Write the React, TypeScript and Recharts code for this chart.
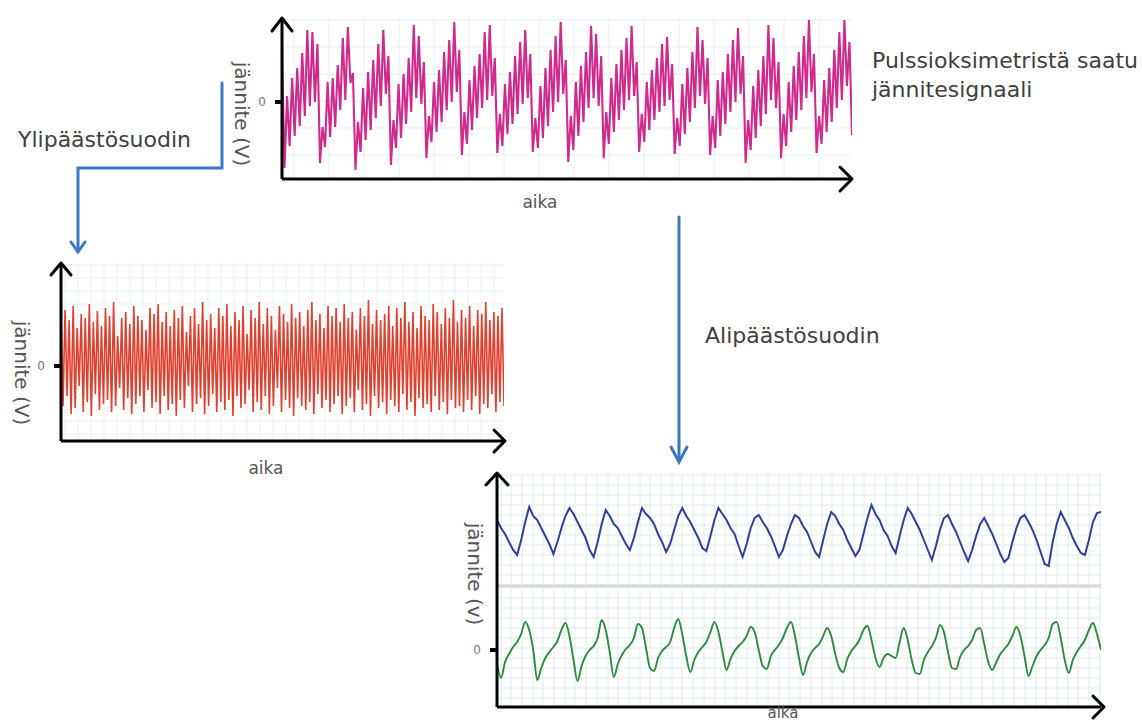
import { LineChart, Line, XAxis, YAxis, CartesianGrid } from "recharts";

const W = 1142;
const H = 722;
const FONT = "'DejaVu Sans', Verdana, sans-serif";

// pulse oximeter voltage, raw (arbitrary units, 0 = zero tick)
const rawSignal = [
  52, -66,
  6, -44, 24, -34, 34, -24, 49, -14, 72, -4, 70, 0, 58, -61,
  -25, -45, 20, -35, 24, -25, 37, -8, 64, 2, 75, 19, 29, -68,
  -20, -50, 14, -38, 30, -28, 42, -16, 58, -4, 72, 8, 46, -63,
  -18, -46, 18, -36, 28, -22, 44, -10, 77, 4, 66, -2, 40, -56,
  -14, -40, 20, -30, 32, -20, 50, -8, 62, 0, 80, 10, 52, -53,
  -10, -42, 22, -28, 36, -16, 48, -6, 70, 2, 77, 6, 44, -51,
  -12, -44, 18, -32, 30, -22, 46, -12, 60, -2, 72, 4, 48, -50,
  -16, -46, 16, -36, 34, -24, 52, -10, 66, 0, 80, 8, 42, -60,
  -14, -48, 20, -34, 36, -20, 50, -6, 76, 4, 68, -4, 46, -56,
  -10, -42, 24, -30, 38, -18, 52, -8, 64, 2, 76, 6, 40, -50,
  -12, -40, 20, -28, 32, -18, 44, -10, 58, -4, 65, 2, 38, -52,
  -16, -44, 18, -32, 34, -20, 50, -6, 75, 6, 62, -2, 44, -53,
  -14, -46, 22, -34, 30, -22, 48, -10, 62, 0, 74, 8, 46, -61,
  -18, -48, 16, -36, 32, -24, 46, -12, 77, 2, 64, -6, 40, -56,
  -12, -44, 20, -30, 36, -18, 50, -8, 66, 4, 82, 10, 48, -51,
  -14, -42, 22, -30, 34, -20, 52, -6, 70, 2, 82, 16, 60, -33,
];

// after high-pass filter
const highPass = [
  50, -40, 56, -30, 46, -48, 60, -42, 38, -20, 52, -46, 48, -36, 62, -50, 44, -28, 55, -44,
  40, -38, 58, -34, 50, -46, 64, -40, 30, -22, 48, -44, 54, -32, 42, -48, 60, -38, 50, -30,
  46, -46, 36, -24, 58, -42, 52, -36, 62, -48, 44, -30, 54, -44, 40, -38, 56, -50, 48, -34,
  60, -42, 34, -20, 50, -46, 58, -38, 42, -32, 64, -48, 46, -40, 52, -28, 38, -46, 58, -36,
  50, -44, 62, -34, 40, -50, 54, -30, 46, -42, 60, -38, 32, -24, 56, -46, 48, -36, 64, -44,
  42, -30, 58, -48, 50, -40, 36, -22, 60, -46, 52, -34, 44, -42, 62, -50, 48, -32, 54, -40,
  40, -44, 56, -36, 64, -48, 46, -28, 52, -42, 38, -34, 60, -46, 50, -38, 58, -30, 44, -48,
  62, -40, 48, -32, 54, -46, 36, -24, 58, -44, 50, -38, 66, -50, 42, -30, 56, -42, 46, -36,
  52, -48, 60, -34, 40, -40, 58, -46, 48, -28, 64, -44, 44, -36, 54, -50, 38, -32, 60, -42,
  50, -38, 46, -46, 62, -30, 54, -44, 42, -36, 58, -48, 48, -34, 66, -42, 44, -40, 56, -46,
  48, -34, 60, -44, 40, -30, 56, -48, 52, -38, 64, -42, 46, -28, 54, -46, 50, -36, 58, -40,
];

// after low-pass filter, upper trace
const lowPassBlue = [
  66, 58, 52, 44, 36, 31, 46, 64, 79, 70, 66, 58, 50, 42, 32, 44, 58, 70, 78, 72,
  64, 56, 48, 36, 29, 44, 62, 76, 70, 62, 58, 50, 42, 36, 48, 64, 78, 72, 68, 62,
  52, 44, 34, 42, 56, 70, 78, 70, 64, 56, 48, 38, 35, 50, 66, 78, 72, 66, 58, 52,
  40, 29, 42, 58, 68, 71, 64, 58, 50, 40, 29, 36, 50, 62, 71, 68, 60, 54, 44, 34,
  29, 46, 62, 74, 70, 62, 56, 46, 38, 30, 36, 52, 68, 81, 72, 66, 56, 50, 40, 33,
  50, 66, 78, 72, 64, 56, 46, 36, 26, 40, 56, 68, 71, 62, 54, 44, 34, 25, 36, 50,
  62, 68, 60, 52, 42, 32, 24, 28, 44, 58, 68, 71, 64, 56, 46, 34, 22, 20, 44, 62,
  74, 66, 58, 48, 40, 33, 31, 46, 64, 73, 74,
];

// after low-pass filter, lower trace
const lowPassGreen = [
  -14, -28, -12, -4, 3, 8, 16, 28, 20, 0, -30, -18, -8, -2, 3, 9, 20, 27, 14, -10,
  -31, -16, -6, 0, 4, 12, 30, 20, -2, -27, -14, -5, 1, 5, 12, 26, 22, 2, -18, -21,
  -8, -1, 3, 8, 22, 31, 16, -6, -22, -10, -2, 3, 8, 18, 28, 18, -2, -20, -9, -1,
  4, 8, 14, 23, 18, 0, -16, -19, -6, 0, 5, 12, 22, 28, 14, -8, -25, -12, -3, 2,
  6, 14, 22, 14, -4, -18, -22, -9, -1, 4, 10, 20, 24, 10, -8, -17, -8, -4, -6, -8,
  8, 22, 10, -10, -23, -24, -10, -2, 4, 12, 25, 18, -2, -18, -19, -7, 0, 4, 10, 20,
  22, 6, -12, -20, -12, -4, 1, 6, 14, 23, 14, -6, -26, -16, -6, 0, 5, 12, 26, 28,
  12, -10, -23, -10, -2, 4, 10, 20, 27, 16, 0,
];

const toRows = (vals: number[]) => vals.map((v, t) => ({ t, v }));

const steps = (from: number, to: number, step: number) => {
  const out: number[] = [];
  for (let p = from; p <= to; p += step) out.push(Math.round(p));
  return out;
};

type Box = { left: number; top: number; right: number; bottom: number };

const vLabel = (text: string, cx: number, cy: number) => () => (
  <text
    x={cx}
    y={cy}
    transform={`rotate(90 ${cx} ${cy})`}
    textAnchor="middle"
    dominantBaseline="central"
    fill="#555"
    fontSize={20}
    fontFamily={FONT}
  >
    {text}
  </text>
);

const hLabel = (text: string, cx: number, by: number, size = 17) => () => (
  <text x={cx} y={by} textAnchor="middle" fill="#555" fontSize={size} fontFamily={FONT}>
    {text}
  </text>
);

function Panel({
  values,
  box,
  domain,
  color,
  strokeWidth,
  curve,
  grid,
  gridColor,
  zeroTick,
  xAxisColor,
  yLabel,
  xLabel,
}: {
  values: number[];
  box: Box;
  domain: [number, number];
  color: string;
  strokeWidth: number;
  curve: "linear" | "monotone";
  grid: [number, number];
  gridColor: string;
  zeroTick: boolean;
  xAxisColor: string;
  yLabel?: () => JSX.Element;
  xLabel?: () => JSX.Element;
}) {
  return (
    <div style={{ position: "absolute", left: 0, top: 0 }}>
      <LineChart
        width={W}
        height={H}
        data={toRows(values)}
        margin={{ top: box.top, right: W - box.right, bottom: H - box.bottom - 10, left: 0 }}
      >
        <CartesianGrid
          stroke={gridColor}
          strokeWidth={1}
          verticalPoints={steps(box.left + grid[0] / 3, box.right, grid[0])}
          horizontalPoints={steps(box.top + 2, box.bottom, grid[1])}
        />
        <XAxis
          type="number"
          dataKey="t"
          domain={[0, values.length - 1]}
          allowDataOverflow
          height={10}
          tick={false}
          tickLine={false}
          axisLine={{ stroke: xAxisColor, strokeWidth: 3 }}
          label={xLabel ? { content: xLabel } : undefined}
        />
        <YAxis
          type="number"
          domain={domain}
          allowDataOverflow
          width={box.left}
          ticks={zeroTick ? [0] : undefined}
          tick={zeroTick ? { fill: "#777", fontSize: 12, fontFamily: FONT } : false}
          tickLine={zeroTick ? { stroke: "#000", strokeWidth: 4 } : false}
          tickSize={7}
          tickMargin={9}
          axisLine={{ stroke: "#000", strokeWidth: 3 }}
          label={yLabel ? { content: yLabel } : undefined}
        />
        <Line
          dataKey="v"
          type={curve}
          stroke={color}
          strokeWidth={strokeWidth}
          dot={false}
          isAnimationActive={false}
        />
      </LineChart>
    </div>
  );
}

export default function App() {
  return (
    <div
      style={{
        position: "absolute",
        left: 0,
        top: 0,
        width: W,
        height: H,
        background: "#fff",
        overflow: "hidden",
        fontFamily: FONT,
      }}
    >
      <Panel
        values={rawSignal}
        box={{ left: 282, top: 18, right: 852, bottom: 179 }}
        domain={[-77, 84]}
        color="#d02a8c"
        strokeWidth={2.1}
        curve="linear"
        grid={[35, 27]}
        gridColor="#e6eff2"
        zeroTick
        xAxisColor="#000"
        yLabel={vLabel("jännite (V)", 242, 114)}
        xLabel={hLabel("aika", 540, 208)}
      />
      <Panel
        values={highPass}
        box={{ left: 61, top: 263, right: 504, bottom: 441 }}
        domain={[-75, 103]}
        color="#e2402e"
        strokeWidth={1.6}
        curve="linear"
        grid={[13, 13]}
        gridColor="#e8f1f4"
        zeroTick
        xAxisColor="#000"
        yLabel={vLabel("jännite (V)", 22, 373)}
        xLabel={hLabel("aika", 266, 474)}
      />
      <Panel
        values={lowPassBlue}
        box={{ left: 497, top: 473, right: 1101, bottom: 586 }}
        domain={[0, 113]}
        color="#2f3f98"
        strokeWidth={2}
        curve="linear"
        grid={[10.7, 10]}
        gridColor="#e0ebf0"
        zeroTick={false}
        xAxisColor="#d6d6d6"
      />
      <Panel
        values={lowPassGreen}
        box={{ left: 497, top: 586, right: 1101, bottom: 707 }}
        domain={[-57, 64]}
        color="#2f8a3e"
        strokeWidth={1.9}
        curve="monotone"
        grid={[10.7, 10]}
        gridColor="#e0ebf0"
        zeroTick
        xAxisColor="#000"
        yLabel={vLabel("jännite (v)", 475, 574)}
        xLabel={hLabel("aika", 783, 718, 15)}
      />
      <svg width={W} height={H} style={{ position: "absolute", left: 0, top: 0 }}>
        <g fill="none" stroke="#000" strokeWidth={3} strokeLinecap="round" strokeLinejoin="round">
          <polyline points="272,31 282,18 292,31" />
          <polyline points="840,167 852,179 840,191" />
          <polyline points="51,275 61,263 71,275" />
          <polyline points="494,430 505,441 494,452" />
          <polyline points="486,485 497,473 508,485" />
          <polyline points="1093,696 1104,707 1093,718" />
        </g>
        <g fill="none" stroke="#3b77c2" strokeWidth={3} strokeLinecap="round" strokeLinejoin="miter">
          <polyline points="222,83 222,168 78,168 78,251" />
          <polyline points="71,242 78,252 85,242" />
          <polyline points="679,217 679,460" />
          <polyline points="671,447 679,462 687,447" />
        </g>
        <g fill="#404040" fontSize={22} fontFamily={FONT}>
          <text x={872} y={68}>Pulssioksimetristä saatu</text>
          <text x={872} y={97}>jännitesignaali</text>
          <text x={18} y={147}>Ylipäästösuodin</text>
          <text x={705} y={343}>Alipäästösuodin</text>
        </g>
      </svg>
    </div>
  );
}
